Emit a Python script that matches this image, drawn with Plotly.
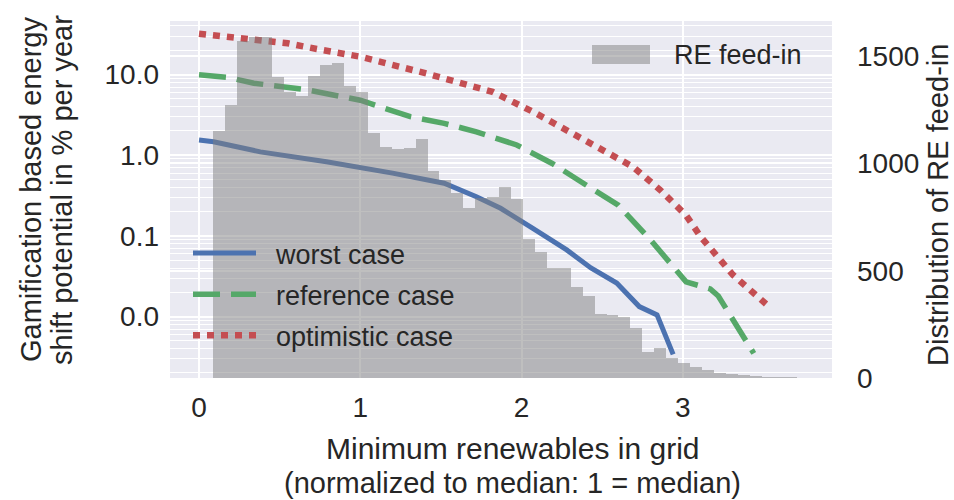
import numpy as np
import plotly.graph_objects as go

# ---------------- data ----------------
# histogram of RE feed-in (right axis)
bin_start = 0.085
bin_width = 0.074
re_counts = [1151, 1271, 1570, 1590, 1590, 1402, 1335, 1315, 1408, 1459,
             1470, 1363, 1335, 1141, 1078, 1066, 1074, 1113, 966, 923,
             860, 791, 838, 844, 892, 835, 647, 589, 511, 511,
             426, 380, 300, 294, 285, 232, 123, 138, 92, 68,
             53, 37, 25, 19, 14, 10, 7, 5, 3, 2]
bin_centers = bin_start + bin_width * (np.arange(len(re_counts)) + 0.5)

# gamification potential (left, log axis)
worst_x = [0, 0.09, 0.38, 0.79, 1.2, 1.52, 1.72, 1.87, 2.07, 2.28, 2.43, 2.59, 2.73, 2.84, 2.94]
worst_y = [1.54, 1.47, 1.10, 0.83, 0.60, 0.45, 0.306, 0.22, 0.124, 0.067, 0.040, 0.026, 0.0133, 0.0105, 0.0034]

ref_x = [0, 0.18, 0.34, 0.66, 1.0, 1.31, 1.52, 1.72, 1.97, 2.19, 2.39, 2.60, 2.80, 2.94, 3.02, 3.17, 3.22, 3.44]
ref_y = [9.9, 9.2, 7.8, 6.5, 4.8, 3.0, 2.48, 1.95, 1.34, 0.79, 0.44, 0.24, 0.089, 0.042, 0.027, 0.022, 0.018, 0.0035]

opt_x = [0, 0.29, 0.55, 0.73, 1.0, 1.41, 1.82, 2.07, 2.28, 2.49, 2.69, 2.86, 3.02, 3.11, 3.31, 3.54]
opt_y = [32, 28, 24.4, 20.7, 16.6, 10.3, 6.1, 3.46, 2.05, 1.22, 0.72, 0.37, 0.18, 0.098, 0.033, 0.013]

x_ticks = [0, 1, 2, 3]
left_tickvals = [10, 1, 0.1, 0.01]
left_ticktext = ["10.0", "1.0", "0.1", "0.0"]
right_tickvals = [0, 500, 1000, 1500]
# minor log grid positions (2..9 x 10^d)
left_minor = [k * 10.0 ** d for d in range(-3, 2) for k in range(2, 10)]

# ---------------- style ----------------
FONT = "Liberation Sans, Arial, sans-serif"
TXT = "#262626"
BG = "#EAEAF2"
NB = "\u00a0\u00a0"
TICK = 28
TITLE = 29

fig = go.Figure()

fig.add_trace(go.Scatter(x=worst_x, y=worst_y, mode="lines", name=NB + "worst case",
                         line=dict(color="#4C72B0", width=5), legendgroup="a"))
fig.add_trace(go.Scatter(x=ref_x, y=ref_y, mode="lines", name=NB + "reference case",
                         line=dict(color="#55A868", width=5.5, dash="27px,11px"), legendgroup="b"))
fig.add_trace(go.Scatter(x=opt_x, y=opt_y, mode="lines", name=NB + "optimistic case",
                         line=dict(color="#C44E52", width=6.5, dash="7px,7px"), legendgroup="c"))

fig.add_trace(go.Bar(x=bin_centers, y=re_counts, width=bin_width, yaxis="y2",
                     name="RE feed-in", showlegend=False,
                     marker=dict(color="rgba(128,128,128,0.5)", line=dict(width=0))))

W, H = 954, 500
L, R, T, B = 170, 122, 21, 122
pw, ph = W - L - R, H - T - B

def px_x(x):
    return (x - L) / pw

def px_y(y):
    return (H - B - y) / ph

fig.update_layout(
    width=W, height=H,
    margin=dict(l=L, r=R, t=T, b=B),
    paper_bgcolor="white", plot_bgcolor=BG,
    font=dict(family=FONT, size=TICK, color=TXT),
    bargap=0,
    xaxis=dict(range=[-0.18, 3.925], tickvals=x_ticks, showgrid=True,
               gridcolor="white", gridwidth=1.5, zeroline=False, showline=False,
               ticks="", ticklabelstandoff=10, tickfont=dict(size=TICK)),
    yaxis=dict(type="log", range=[-2.761, 1.663], tickvals=left_tickvals,
               ticktext=left_ticktext, showgrid=True, gridcolor="white", gridwidth=1.5,
               minor=dict(tickmode="array", tickvals=left_minor, showgrid=True,
                          gridcolor="white", gridwidth=1.2, ticks=""),
               zeroline=False, showline=False, ticks="", ticklabelstandoff=10,
               tickfont=dict(size=TICK)),
    yaxis2=dict(overlaying="y", side="right", range=[0, 1664], tickvals=right_tickvals,
                showgrid=True, gridcolor="white", gridwidth=1.5, zeroline=False,
                showline=False, ticks="", ticklabelstandoff=24, tickfont=dict(size=TICK)),
    legend=dict(x=px_x(188), y=px_y(229), xanchor="left", yanchor="top",
                bgcolor="rgba(0,0,0,0)", borderwidth=0, itemwidth=63,
                traceorder="grouped", tracegroupgap=3,
                font=dict(size=27, color=TXT)),
    showlegend=True,
)

# x axis title (two lines)
fig.add_annotation(text="Minimum renewables in grid", xref="paper", yref="paper",
                   x=px_x(512), y=px_y(448), xanchor="center", yanchor="middle",
                   showarrow=False, font=dict(size=30, color=TXT))
fig.add_annotation(text="(normalized to median: 1 = median)", xref="paper", yref="paper",
                   x=px_x(512), y=px_y(483), xanchor="center", yanchor="middle",
                   showarrow=False, font=dict(size=TITLE, color=TXT))
# left axis title
fig.add_annotation(text="Gamification based energy", xref="paper", yref="paper",
                   x=px_x(31), y=px_y(190), xanchor="center", yanchor="middle",
                   textangle=-90, showarrow=False, font=dict(size=TITLE, color=TXT))
fig.add_annotation(text="shift potential in % per year", xref="paper", yref="paper",
                   x=px_x(62), y=px_y(190), xanchor="center", yanchor="middle",
                   textangle=-90, showarrow=False, font=dict(size=TITLE, color=TXT))
# right axis title
fig.add_annotation(text="Distribution of RE feed-in", xref="paper", yref="paper",
                   x=px_x(938), y=px_y(205), xanchor="center", yanchor="middle",
                   textangle=-90, showarrow=False, font=dict(size=TITLE, color=TXT))

# legend for histogram (patch + label)
fig.add_shape(type="rect", xref="paper", yref="paper",
              x0=px_x(592), x1=px_x(650), y0=px_y(64), y1=px_y(45),
              fillcolor="rgba(128,128,128,0.5)", line=dict(width=0))
fig.add_annotation(text="RE feed-in", xref="paper", yref="paper",
                   x=px_x(672), y=px_y(55), xanchor="left", yanchor="middle",
                   showarrow=False, font=dict(size=27, color=TXT))

fig.write_html("out.html")
